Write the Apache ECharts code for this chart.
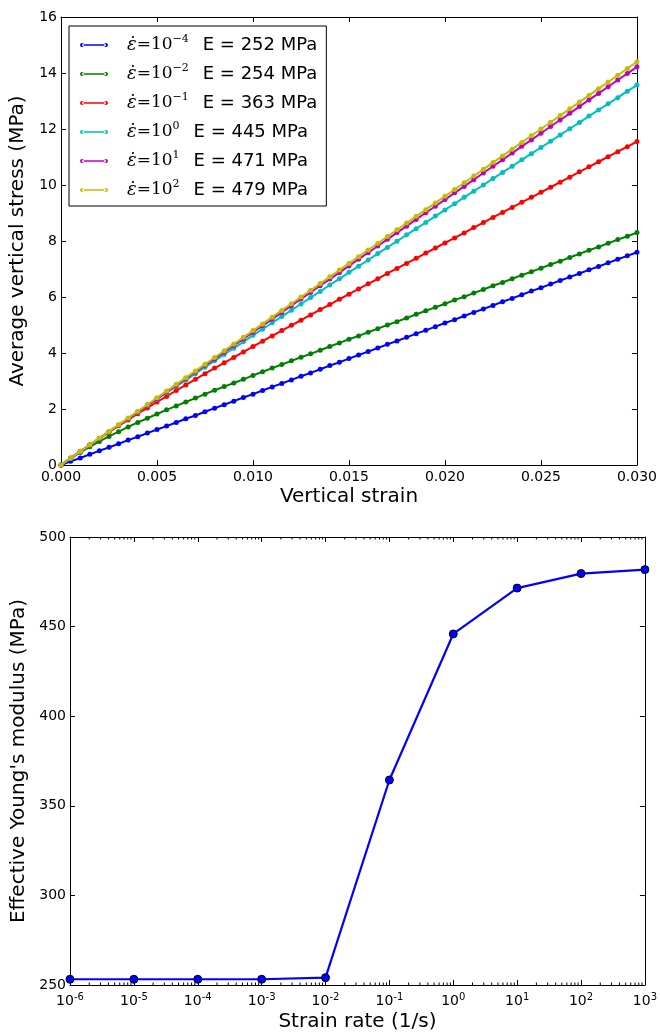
<!DOCTYPE html>
<html>
<head>
<meta charset="utf-8">
<script src="https://cdn.jsdelivr.net/npm/echarts@6/dist/echarts.min.js"></script>
<style>
html,body{margin:0;padding:0;background:#fff;}
#c{width:660px;height:1034px;}
</style>
</head>
<body>
<div id="c"></div>
<script>
// ---------- DATA ----------
const strain = [0,0.0005,0.001,0.0015,0.002,0.0025,0.003,0.0035,0.004,0.0045,0.005,0.0055,0.006,0.0065,0.007,0.0075,0.008,0.0085,0.009,0.0095,0.01,0.0105,0.011,0.0115,0.012,0.0125,0.013,0.0135,0.014,0.0145,0.015,0.0155,0.016,0.0165,0.017,0.0175,0.018,0.0185,0.019,0.0195,0.02,0.0205,0.021,0.0215,0.022,0.0225,0.023,0.0235,0.024,0.0245,0.025,0.0255,0.026,0.0265,0.027,0.0275,0.028,0.0285,0.029,0.0295,0.03];
const stressRateM4 = [0,0.13,0.25,0.38,0.51,0.63,0.76,0.89,1.01,1.14,1.27,1.39,1.52,1.65,1.77,1.90,2.03,2.15,2.28,2.41,2.53,2.66,2.79,2.91,3.04,3.17,3.29,3.42,3.55,3.67,3.80,3.93,4.05,4.18,4.31,4.43,4.56,4.69,4.81,4.94,5.07,5.19,5.32,5.45,5.57,5.70,5.83,5.95,6.08,6.21,6.33,6.46,6.59,6.71,6.84,6.97,7.09,7.22,7.35,7.47,7.60];
const stressRateM2 = [0,0.23,0.45,0.65,0.84,1.02,1.19,1.36,1.52,1.67,1.82,1.97,2.11,2.25,2.39,2.53,2.67,2.80,2.93,3.06,3.20,3.33,3.46,3.59,3.72,3.85,3.97,4.10,4.23,4.36,4.49,4.61,4.74,4.87,5.00,5.12,5.25,5.38,5.51,5.63,5.76,5.89,6.01,6.14,6.27,6.40,6.52,6.65,6.78,6.90,7.03,7.16,7.28,7.41,7.54,7.67,7.79,7.92,8.05,8.17,8.30];
const stressRateM1 = [0,0.25,0.49,0.72,0.95,1.17,1.40,1.61,1.83,2.04,2.25,2.45,2.66,2.86,3.06,3.26,3.46,3.65,3.84,4.04,4.23,4.42,4.61,4.80,4.99,5.17,5.36,5.55,5.73,5.92,6.10,6.29,6.47,6.65,6.84,7.02,7.20,7.38,7.57,7.75,7.93,8.11,8.29,8.48,8.66,8.84,9.02,9.20,9.38,9.56,9.74,9.92,10.10,10.28,10.47,10.65,10.83,11.01,11.19,11.37,11.55];
const stressRate0 = [0,0.24,0.48,0.71,0.95,1.19,1.42,1.65,1.88,2.12,2.35,2.58,2.81,3.03,3.26,3.49,3.72,3.95,4.17,4.40,4.63,4.85,5.08,5.30,5.53,5.75,5.98,6.20,6.43,6.65,6.88,7.10,7.32,7.55,7.77,7.99,8.22,8.44,8.66,8.89,9.11,9.33,9.56,9.78,10.00,10.23,10.45,10.67,10.90,11.12,11.34,11.56,11.79,12.01,12.23,12.46,12.68,12.90,13.12,13.35,13.57];
const stressRate1 = [0,0.24,0.47,0.71,0.95,1.19,1.42,1.66,1.90,2.13,2.37,2.61,2.84,3.08,3.32,3.56,3.79,4.03,4.27,4.50,4.74,4.98,5.21,5.45,5.69,5.93,6.16,6.40,6.64,6.87,7.11,7.35,7.58,7.82,8.06,8.30,8.53,8.77,9.01,9.24,9.48,9.72,9.95,10.19,10.43,10.67,10.90,11.14,11.38,11.61,11.85,12.09,12.32,12.56,12.80,13.04,13.27,13.51,13.75,13.98,14.22];
const stressRate2 = [0,0.24,0.48,0.72,0.96,1.20,1.44,1.68,1.92,2.16,2.40,2.64,2.88,3.12,3.36,3.60,3.84,4.08,4.32,4.56,4.80,5.04,5.28,5.52,5.76,6.00,6.24,6.48,6.72,6.96,7.20,7.44,7.68,7.92,8.16,8.40,8.64,8.88,9.12,9.36,9.60,9.84,10.08,10.32,10.56,10.80,11.04,11.28,11.52,11.76,12.00,12.24,12.48,12.72,12.96,13.20,13.44,13.68,13.92,14.16,14.40];
const rateExponents = ['\u22124','\u22122','\u22121','0','1','2'];
const moduliLegend = [252,254,363,445,471,479];
const seriesColors = ['#0000ff','#008000','#ff0000','#00bfbf','#bf00bf','#bfbf00'];

const strainRates = [1e-6,1e-5,1e-4,1e-3,1e-2,1e-1,1,10,100,1000];
const youngModulus = [253.2,253.2,253.2,253.2,254.1,364.4,445.9,471.5,479.6,481.8];

const topYTicks = [0,2,4,6,8,10,12,14,16];
const bottomYTicks = [250,300,350,400,450,500];
const minorMultipliers = [2,3,4,5,6,7,8,9];
const minorDecades = [1e-6,1e-5,1e-4,1e-3,1e-2,1e-1,1,10,100];

// ---------- BUILD ----------
const stressSets = [stressRateM4, stressRateM2, stressRateM1, stressRate0, stressRate1, stressRate2];
const seriesNames = rateExponents.map((e,i)=>'rate10^' + e + ' E' + moduliLegend[i]);
const minorTicks = [];
minorDecades.forEach(d => minorMultipliers.forEach(m => minorTicks.push([d*m, 250])));

const FONT = 'DejaVu Sans';
const axisLineStyle = {color:'#000', width:1};
const tickStyle = {color:'#000', width:1};

const lineSeries = stressSets.map((arr,i)=>({
  name: seriesNames[i],
  type:'line',
  xAxisIndex:0, yAxisIndex:0,
  data: strain.map((x,j)=>[x, arr[j]]),
  showSymbol:true, showAllSymbol:true,
  symbol:'circle', symbolSize:5,
  lineStyle:{color:seriesColors[i], width:2},
  itemStyle:{color:seriesColors[i]},
  emphasis:{disabled:true},
  animation:false,
  z: 2+i
}));

const legendIcon = 'path://M2,2.2H26V3.8H2Z M0,3A2,2 0 1,0 4,3A2,2 0 1,0 0,3Z M24,3A2,2 0 1,0 28,3A2,2 0 1,0 24,3Z';

const option = {
  animation:false,
  backgroundColor:'#fff',
  textStyle:{fontFamily:FONT},
  grid:[
    {left:61, top:17, width:576, height:448},
    {left:70, top:537, width:577, height:448}
  ],
  legend:{
    orient:'vertical', left:69, top:26,
    data: seriesNames,
    icon: legendIcon,
    itemWidth:28, itemHeight:6, itemGap:9,
    padding:[8,9,7,11],
    backgroundColor:'#fff', borderColor:'#000', borderWidth:1,
    selectedMode:false,
    formatter: function(name){
      const i = seriesNames.indexOf(name);
      return '{e|\u03B5\u0307}{m|=10}{s|' + rateExponents[i] + '}{t|E = ' + moduliLegend[i] + ' MPa}';
    },
    textStyle:{
      color:'#000', fontFamily:FONT, fontSize:18,
      rich:{
        e:{fontFamily:'DejaVu Serif', fontStyle:'italic', fontSize:18, color:'#000', padding:[0,0,0,14], lineHeight:22},
        m:{fontFamily:'DejaVu Serif', fontSize:17, color:'#000', lineHeight:22},
        s:{fontFamily:'DejaVu Serif', fontSize:11, color:'#000', verticalAlign:'top', lineHeight:10},
        t:{fontFamily:FONT, fontSize:18, color:'#000', lineHeight:22, padding:[0,0,0,14]}
      }
    }
  },
  xAxis:[
    {gridIndex:0, type:'value', min:0, max:0.03, interval:0.005, position:'bottom',
     name:'Vertical strain', nameLocation:'middle', nameGap:22,
     nameTextStyle:{fontSize:20, color:'#000', fontFamily:FONT},
     axisLine:{show:true, onZero:false, lineStyle:axisLineStyle},
     axisTick:{show:true, inside:true, length:5, lineStyle:tickStyle},
     axisLabel:{color:'#000', fontSize:14, margin:5, fontFamily:FONT, formatter:v=>v.toFixed(3)},
     splitLine:{show:false}},
    {gridIndex:0, type:'value', min:0, max:0.03, interval:0.005, position:'top',
     axisLine:{show:true, onZero:false, lineStyle:axisLineStyle},
     axisTick:{show:true, inside:true, length:5, lineStyle:tickStyle},
     axisLabel:{show:false}, splitLine:{show:false}},
    {gridIndex:1, type:'log', logBase:10, min:1e-6, max:1e3, splitNumber:9, position:'bottom',
     name:'Strain rate (1/s)', nameLocation:'middle', nameGap:27,
     nameTextStyle:{fontSize:20, color:'#000', fontFamily:FONT},
     axisLine:{show:true, onZero:false, lineStyle:axisLineStyle},
     axisTick:{show:true, inside:true, length:5, lineStyle:tickStyle},
     axisLabel:{color:'#000', margin:7, fontFamily:FONT,
       formatter:function(v){ const e = Math.round(Math.log10(v)); return '{b|10}{s|' + e + '}'; },
       rich:{ b:{fontSize:14, fontFamily:FONT, color:'#000', lineHeight:18},
              s:{fontSize:10, fontFamily:FONT, color:'#000', verticalAlign:'top', lineHeight:10} }},
     splitLine:{show:false}},
    {gridIndex:1, type:'log', logBase:10, min:1e-6, max:1e3, splitNumber:9, position:'top',
     axisLine:{show:true, onZero:false, lineStyle:axisLineStyle},
     axisTick:{show:true, inside:true, length:5, lineStyle:tickStyle},
     axisLabel:{show:false}, splitLine:{show:false}}
  ],
  yAxis:[
    {gridIndex:0, type:'value', min:0, max:16, interval:2, position:'left',
     name:'Average vertical stress (MPa)', nameLocation:'middle', nameGap:27,
     nameTextStyle:{fontSize:20, color:'#000', fontFamily:FONT},
     axisLine:{show:true, onZero:false, lineStyle:axisLineStyle},
     axisTick:{show:true, inside:true, length:5, lineStyle:tickStyle},
     axisLabel:{color:'#000', fontSize:14, margin:4, fontFamily:FONT},
     splitLine:{show:false}},
    {gridIndex:0, type:'value', min:0, max:16, interval:2, position:'right',
     axisLine:{show:true, onZero:false, lineStyle:axisLineStyle},
     axisTick:{show:true, inside:true, length:5, lineStyle:tickStyle},
     axisLabel:{show:false}, splitLine:{show:false}},
    {gridIndex:1, type:'value', min:250, max:500, interval:50, position:'left',
     name:"Effective Young's modulus (MPa)", nameLocation:'middle', nameGap:35,
     nameTextStyle:{fontSize:20, color:'#000', fontFamily:FONT},
     axisLine:{show:true, onZero:false, lineStyle:axisLineStyle},
     axisTick:{show:true, inside:true, length:5, lineStyle:tickStyle},
     axisLabel:{color:'#000', fontSize:14, margin:4, fontFamily:FONT},
     splitLine:{show:false}},
    {gridIndex:1, type:'value', min:250, max:500, interval:50, position:'right',
     axisLine:{show:true, onZero:false, lineStyle:axisLineStyle},
     axisTick:{show:true, inside:true, length:5, lineStyle:tickStyle},
     axisLabel:{show:false}, splitLine:{show:false}}
  ],
  series: lineSeries.concat([
    {
      name:'modulus', type:'line', xAxisIndex:2, yAxisIndex:2,
      data: strainRates.map((r,i)=>[r, youngModulus[i]]),
      symbol:'circle', symbolSize:8, showSymbol:true,
      lineStyle:{color:'#0000ff', width:2.2},
      itemStyle:{color:'#0000ff', borderColor:'#000', borderWidth:1},
      emphasis:{disabled:true}, clip:false, z:5
    },
    {
      name:'minorTicks', type:'custom', xAxisIndex:2, yAxisIndex:2,
      data: minorTicks, silent:true, clip:false, z:1,
      renderItem:function(params, api){
        const v = api.value(0);
        const pb = api.coord([v, 250]);
        const pt = api.coord([v, 500]);
        return {type:'group', children:[
          {type:'line', shape:{x1:pb[0], y1:pb[1], x2:pb[0], y2:pb[1]-2.5}, style:{stroke:'#000', lineWidth:1}},
          {type:'line', shape:{x1:pt[0], y1:pt[1], x2:pt[0], y2:pt[1]+2.5}, style:{stroke:'#000', lineWidth:1}}
        ]};
      }
    }
  ])
};

const chart = echarts.init(document.getElementById('c'), null, {renderer:'canvas'});
chart.setOption(option);
</script>
</body>
</html>
